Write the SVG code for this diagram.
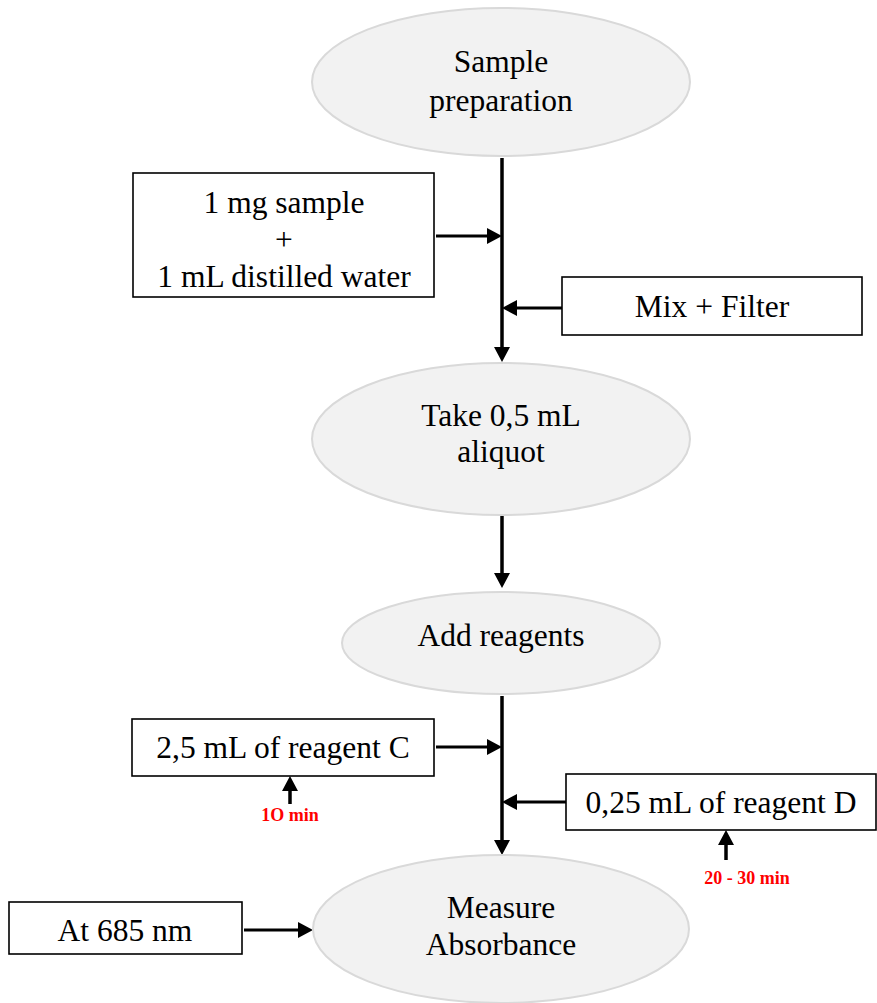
<svg xmlns="http://www.w3.org/2000/svg" width="877" height="1003" viewBox="0 0 877 1003">
<style>
.oval{fill:#f2f2f2;stroke:#d9d9d9;stroke-width:2}
.box{fill:#fff;stroke:#000;stroke-width:1.6}
.t{font-family:"Liberation Serif","Times New Roman",serif;font-size:31.5px;fill:#000;text-anchor:middle}
.r{font-family:"Liberation Serif","Times New Roman",serif;font-size:18px;font-weight:bold;fill:#ff0000;text-anchor:middle}
.ln{stroke:#000;stroke-width:3.5;fill:none}
.lh{stroke:#000;stroke-width:3;fill:none}
</style>
<defs>
<marker id="ah" markerUnits="userSpaceOnUse" markerWidth="15" markerHeight="16" viewBox="0 0 15 16" refX="7" refY="8" orient="auto">
<path d="M0,0 L15,8 L0,16 z" fill="#000"/>
</marker>
</defs>
<rect width="877" height="1003" fill="#fff"/>
<g id="connectors">
<path class="ln" d="M502,158 V354" marker-end="url(#ah)"/>
<path class="lh" d="M436,236 H494" marker-end="url(#ah)"/>
<path class="lh" d="M562,308 H510" marker-end="url(#ah)"/>
<path class="ln" d="M502,516 V580" marker-end="url(#ah)"/>
<path class="ln" d="M502,696 V847" marker-end="url(#ah)"/>
<path class="lh" d="M436,747 H494" marker-end="url(#ah)"/>
<path class="lh" d="M566,802 H510" marker-end="url(#ah)"/>
<path class="lh" d="M244,930 H305" marker-end="url(#ah)"/>
<path class="ln" d="M290,804 V784" marker-end="url(#ah)"/>
<path class="ln" d="M726,860 V838" marker-end="url(#ah)"/>
</g>
<g id="sample-preparation">
<ellipse class="oval" cx="501" cy="82" rx="189" ry="74"/>
<text class="t" x="501" y="72">Sample</text>
<text class="t" x="501" y="111">preparation</text>
</g>
<g id="sample-water">
<rect class="box" x="133" y="173" width="301" height="124"/>
<text class="t" x="284" y="213">1 mg sample</text>
<text class="t" x="284" y="250">+</text>
<text class="t" x="284" y="287">1 mL distilled water</text>
</g>
<g id="mix-filter">
<rect class="box" x="562" y="277" width="300" height="58"/>
<text class="t" x="712" y="317">Mix + Filter</text>
</g>
<g id="take-aliquot">
<ellipse class="oval" cx="501" cy="439" rx="189" ry="76"/>
<text class="t" x="501" y="426">Take 0,5 mL</text>
<text class="t" x="501" y="462">aliquot</text>
</g>
<g id="add-reagents">
<ellipse class="oval" cx="501" cy="643" rx="159" ry="51"/>
<text class="t" x="501" y="646">Add reagents</text>
</g>
<g id="reagent-c">
<rect class="box" x="132" y="719" width="302" height="57"/>
<text class="t" x="283" y="758">2,5 mL of reagent C</text>
</g>
<g id="time-c">
<text class="r" x="290" y="821">1O min</text>
</g>
<g id="reagent-d">
<rect class="box" x="566" y="774" width="310" height="56"/>
<text class="t" x="721" y="813">0,25 mL of reagent D</text>
</g>
<g id="time-d">
<text class="r" x="747" y="884">20 - 30 min</text>
</g>
<g id="measure-absorbance">
<ellipse class="oval" cx="501" cy="929" rx="188" ry="74"/>
<text class="t" x="501" y="918">Measure</text>
<text class="t" x="501" y="955">Absorbance</text>
</g>
<g id="wavelength">
<rect class="box" x="9" y="902" width="233" height="52"/>
<text class="t" x="125" y="941">At 685 nm</text>
</g>
</svg>
